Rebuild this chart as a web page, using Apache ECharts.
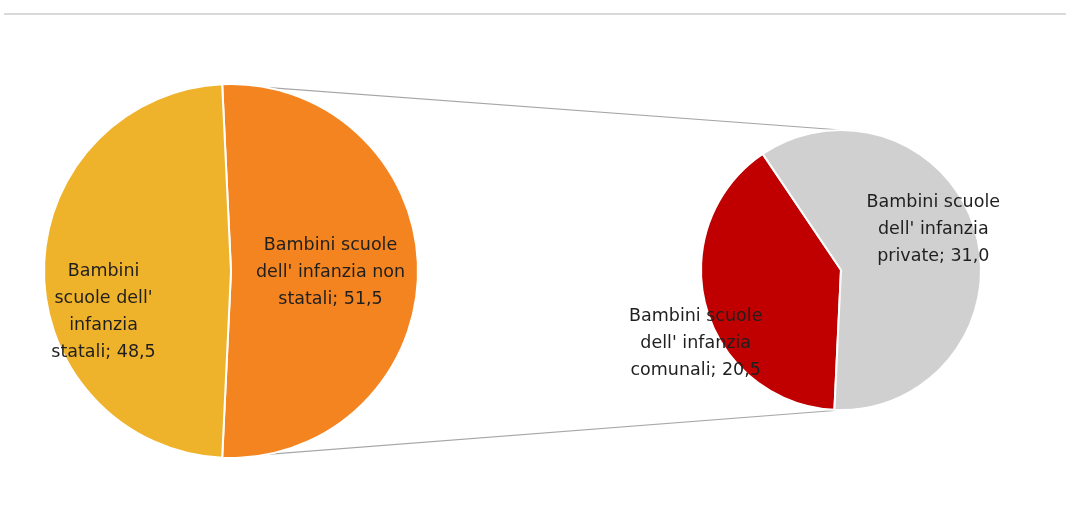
<!DOCTYPE html>
<html>
<head>
<meta charset="utf-8">
<script src="https://cdn.jsdelivr.net/npm/echarts@6/dist/echarts.min.js"></script>
<style>
  html, body { margin: 0; padding: 0; background: #fff; }
  #chart { width: 1066px; height: 519px; }
</style>
</head>
<body>
<div id="chart"></div>
<script>
// Main pie: state vs non-state pre-school children (%)
const mainNames = ["Bambini scuole dell' infanzia non statali", "Bambini scuole dell' infanzia statali"];
const mainLabels = ["Bambini scuole\ndell' infanzia non\nstatali; 51,5", "Bambini\nscuole dell'\ninfanzia\nstatali; 48,5"];
const mainValues = [51.5, 48.5];

// Secondary pie: breakdown of the non-state share (%)
const subNames = ["Bambini scuole dell' infanzia comunali", "Bambini scuole dell' infanzia private"];
const subLabels = ["Bambini scuole\ndell' infanzia\ncomunali; 20,5", "Bambini scuole\ndell' infanzia\nprivate; 31,0"];
const subValues = [20.5, 31.0];

// Layout and styling
const mainColors = ['#F38420', '#EFB32B'];
const subColors = ['#C00000', '#D0D0D0'];
const mainLabelOffsets = [[3, 1], [-31, 41]];
const subLabelOffsets = [[-75, 54], [22, -21]];
const mainCenter = [231, 271], mainRadius = 187;
const subCenter = [841, 270], subRadius = 140;

const mainTotal = mainValues.reduce((a, b) => a + b, 0);
const splitSpan = mainValues[0] / mainTotal * 360;   // angle of the exploded slice
const mainStart = splitSpan / 2;                     // slice centred on the right
const subStart = 360 - splitSpan / 2;

function buildData(names, labels, values, colors, offsets) {
  return values.map((v, i) => ({
    name: names[i],
    value: v,
    itemStyle: { color: colors[i] },
    label: { formatter: labels[i], offset: offsets[i] }
  }));
}

// connector lines from the edges of the split slice to the secondary pie
function pt(c, r, deg) {
  const a = deg * Math.PI / 180;
  return [c[0] + r * Math.cos(a), c[1] - r * Math.sin(a)];
}
const topA = pt(mainCenter, mainRadius, mainStart);
const botA = pt(mainCenter, mainRadius, -mainStart);
const topB = [subCenter[0], subCenter[1] - subRadius];
const botB = [subCenter[0], subCenter[1] + subRadius];

const labelStyle = {
  show: true,
  position: 'inside',
  color: '#1f1f1f',
  fontFamily: 'DejaVu Sans',
  fontSize: 17.5,
  lineHeight: 27,
  align: 'center'
};

const chart = echarts.init(document.getElementById('chart'), null, { renderer: 'canvas' });
chart.setOption({
  backgroundColor: '#fff',
  animation: false,
  graphic: [
    { type: 'line', z: 0, shape: { x1: 4, y1: 14, x2: 1066, y2: 14 },
      style: { stroke: '#d9d9d9', lineWidth: 2 } },
    { type: 'line', z: 0, shape: { x1: topA[0], y1: topA[1], x2: topB[0], y2: topB[1] },
      style: { stroke: '#a6a6a6', lineWidth: 1.2 } },
    { type: 'line', z: 0, shape: { x1: botA[0], y1: botA[1], x2: botB[0], y2: botB[1] },
      style: { stroke: '#a6a6a6', lineWidth: 1.2 } }
  ],
  series: [
    {
      type: 'pie',
      z: 5,
      center: mainCenter,
      radius: mainRadius,
      startAngle: mainStart,
      clockwise: true,
      silent: true,
      itemStyle: { borderColor: '#fff', borderWidth: 2 },
      label: labelStyle,
      labelLine: { show: false },
      data: buildData(mainNames, mainLabels, mainValues, mainColors, mainLabelOffsets)
    },
    {
      type: 'pie',
      z: 5,
      center: subCenter,
      radius: subRadius,
      startAngle: subStart,
      clockwise: true,
      silent: true,
      itemStyle: { borderColor: '#fff', borderWidth: 2 },
      label: labelStyle,
      labelLine: { show: false },
      data: buildData(subNames, subLabels, subValues, subColors, subLabelOffsets)
    }
  ]
});
</script>
</body>
</html>
